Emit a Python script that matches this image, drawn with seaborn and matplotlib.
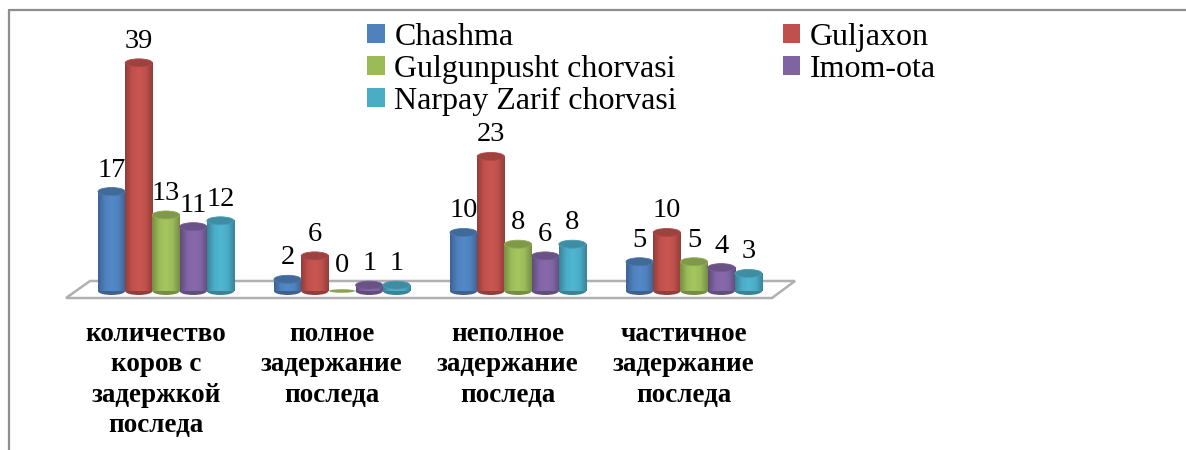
import numpy as np
import pandas as pd
import seaborn as sns
import matplotlib
matplotlib.use("Agg")
import matplotlib.pyplot as plt
from matplotlib.colors import LinearSegmentedColormap, to_rgb
from matplotlib.lines import Line2D
from matplotlib.patches import Ellipse, Polygon, Patch
from matplotlib.transforms import ScaledTranslation

categories = ["количество\nкоров с\nзадержкой\nпоследа",
              "полное\nзадержание\nпоследа",
              "неполное\nзадержание\nпоследа",
              "частичное\nзадержание\nпоследа"]
farms = ["Chashma", "Guljaxon", "Gulgunpusht chorvasi", "Imom-ota", "Narpay Zarif chorvasi"]
chashma = [17, 2, 10, 5]
guljaxon = [39, 6, 23, 10]
gulgunpusht = [13, 0, 8, 5]
imom_ota = [11, 1, 6, 4]
narpay = [12, 1, 8, 3]
colors = ["#4f81bd", "#c0504d", "#9bbb59", "#8064a2", "#4bacc6"]

sns.set_theme(style="white")
plt.rcParams["font.family"] = ["Liberation Serif", "DejaVu Serif"]

df = pd.DataFrame({"cat": categories * 5,
                   "farm": np.repeat(farms, 4),
                   "val": chashma + guljaxon + gulgunpusht + imom_ota + narpay})

W, H = 1186, 450
fig = plt.figure(figsize=(W / 100, H / 100), dpi=100)
base_y = 291
top_y = 11
ax = fig.add_axes([78 / W, 1 - base_y / H, 704 / W, (base_y - top_y) / H])
sns.barplot(data=df, x="cat", y="val", hue="farm", palette=colors, width=0.773, gap=0,
            saturation=1, legend=False, ax=ax)
px = 5.85
ax.set_xlim(-0.5, 3.5)
ax.set_ylim(0, (base_y - top_y) / px)
ax.set_xlabel("")
ax.set_ylabel("")
ax.set_yticks([])
sns.despine(ax=ax, left=True, bottom=True)
ax.patch.set_alpha(0)

# frame of the picture, only left and top
grey = "#8e8e8e"
fig.add_artist(Line2D([9 / W, 9 / W], [0, 1 - 10 / H], color=grey, lw=1.6))
fig.add_artist(Line2D([9 / W, 1], [1 - 10 / H, 1 - 10 / H], color=grey, lw=1.6))

# floor
floor = [(66, 298), (772, 298), (795, 281), (90, 281)]
fig.add_artist(Polygon([(x / W, 1 - y / H) for x, y in floor], closed=True, fc="white",
                       ec="#b0b0b0", lw=1.8, zorder=0.5))
ax.set_zorder(2)

# cylinders
cap_h = 8 / px
bars = [b for c in ax.containers for b in c]
for b in bars:
    x0, w, h = b.get_x(), b.get_width(), b.get_height()
    base = np.array(to_rgb(b.get_facecolor()))
    dark = base * 0.76
    light = np.clip(base * 1.06, 0, 1)
    b.set_visible(False)
    if h == 0:
        ax.add_patch(Ellipse((x0 + w / 2, 0), w * 0.95, 3.5 / px, fc=base * 0.88, ec="none",
                             clip_on=False, zorder=3))
        continue
    cmap = LinearSegmentedColormap.from_list("c", [dark, base, light, base, dark])
    ax.add_patch(Ellipse((x0 + w / 2, 0), w, cap_h, fc=dark, ec="none", clip_on=False, zorder=3))
    ax.imshow(np.linspace(0, 1, 64).reshape(1, -1), cmap=cmap, aspect="auto",
              extent=(x0, x0 + w, 0, h), zorder=3.1, clip_on=False)
    ax.add_patch(Ellipse((x0 + w / 2, h), w, cap_h, fc=base * 0.82, ec=base * 0.92, lw=0.6,
                         clip_on=False, zorder=3.2))
ax.set_xlim(-0.5, 3.5)
ax.set_ylim(0, (base_y - top_y) / px)

# value labels
for b in bars:
    v = b.get_height()
    pad = 13 if v == 0 else 9
    ax.annotate(f"{v:.0f}", (b.get_x() + b.get_width() / 2, v), xytext=(0, pad * 0.72),
                textcoords="offset points", ha="center", va="bottom", fontsize=20.5,
                color="black", annotation_clip=False, zorder=5)

# category labels sit a bit left of the groups
ax.tick_params(axis="x", length=0, pad=22)
shift = ScaledTranslation(-10 / 100, 0, fig.dpi_scale_trans)
for lab in ax.get_xticklabels():
    lab.set_fontsize(19.5)
    lab.set_fontweight("bold")
    lab.set_color("black")
    lab.set_linespacing(1.29)
    lab.set_transform(lab.get_transform() + shift)

# legend, filled by column
order = [0, 2, 4, 1, 3]
handles = [Patch(fc=colors[i], ec="none", label=farms[i]) for i in order]
fig.legend(handles=handles, ncol=2, loc="upper left", bbox_to_anchor=(367 / W, 1 - 23 / H),
           frameon=False, fontsize=23, labelcolor="black", handlelength=0.56, handleheight=0.56,
           handletextpad=0.3, columnspacing=3.3, labelspacing=0.09, borderpad=0, borderaxespad=0)

fig.savefig("out.png", dpi=100, facecolor="white")
